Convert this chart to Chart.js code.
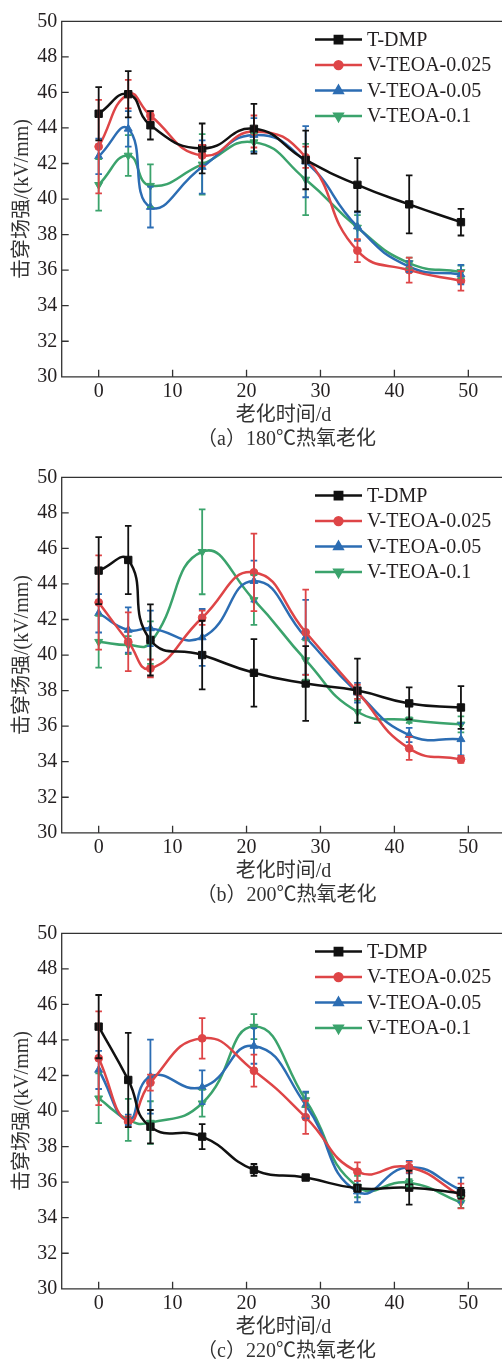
<!DOCTYPE html>
<html><head><meta charset="utf-8">
<script src="https://cdn.jsdelivr.net/npm/chart.js@4.4.0/dist/chart.umd.min.js"></script>
<style>
html,body{margin:0;padding:0;background:#fff;overflow:hidden;width:502px;height:1362px;position:relative;}
.panel{position:absolute;left:0;width:520px;height:456px;}
canvas{display:block;}
</style></head><body>
<div class="panel" style="top:0"><canvas id="c0" width="520" height="456"></canvas></div>
<div class="panel" style="top:456px"><canvas id="c1" width="520" height="456"></canvas></div>
<div class="panel" style="top:912px"><canvas id="c2" width="520" height="456"></canvas></div>
<script>
// ---- data ----
const days = [0, 4, 7, 14, 21, 28, 35, 42, 49];
const xTicks = [0, 10, 20, 30, 40, 50];
const yTicks = [30, 32, 34, 36, 38, 40, 42, 44, 46, 48, 50];
const seriesNames = ['T-DMP', 'V-TEOA-0.025', 'V-TEOA-0.05', 'V-TEOA-0.1'];
const xTitle = '老化时间/d';
const yTitle = '击穿场强/(kV/mm)';
const captions = ['（a）180℃热氧老化', '（b）200℃热氧老化', '（c）220℃热氧老化'];

// (a) 180 ℃
const a_TDMP     = [44.8, 45.9, 44.15, 42.85, 43.95, 42.2, 40.8, 39.7, 38.7];
const a_TDMP_err = [1.5, 1.3, 0.8, 1.4, 1.4, 1.65, 1.5, 1.63, 0.75];
const a_V025     = [42.95, 45.9, 44.7, 42.45, 43.8, 42.35, 37.1, 36.0, 35.4];
const a_V025_err = [2.63, 0.8, 0.25, 0.6, 0.9, 0.6, 0.65, 0.7, 0.55];
const a_V05      = [42.4, 43.95, 39.55, 41.8, 43.6, 42.1, 38.45, 36.2, 35.75];
const a_V05_err  = [1.0, 1.0, 1.15, 1.5, 0.95, 2.0, 0.8, 0.3, 0.55];
const a_V1       = [40.8, 42.45, 40.75, 41.95, 43.2, 41.1, 38.4, 36.4, 35.9];
const a_V1_err   = [1.45, 1.15, 1.2, 1.7, 0.5, 2.0, 0.7, 0.3, 0.35];

// (b) 200 ℃
const b_TDMP     = [44.75, 45.35, 40.85, 40.0, 39.0, 38.4, 38.0, 37.28, 37.05];
const b_TDMP_err = [1.88, 1.92, 2.0, 1.93, 1.9, 2.1, 1.8, 0.9, 1.2];
const b_V025     = [42.96, 40.75, 39.25, 42.1, 44.65, 41.28, 37.93, 34.75, 34.13];
const b_V025_err = [2.65, 1.65, 0.5, 0.4, 2.18, 2.4, 0.4, 0.65, 0.2];
const b_V05      = [42.35, 41.41, 41.5, 40.99, 44.16, 41.0, 37.88, 35.5, 35.26];
const b_V05_err  = [1.08, 1.27, 1.0, 1.6, 1.15, 2.1, 0.55, 0.4, 0.9];
const b_V1       = [40.75, 40.56, 40.7, 45.81, 43.1, 39.72, 36.81, 36.34, 36.1];
const b_V1_err   = [1.46, 0.5, 1.2, 2.39, 1.4, 1.1, 0.64, 0.15, 0.45];

// (c) 220 ℃
const c_TDMP     = [44.75, 41.75, 39.12, 38.56, 36.69, 36.26, 35.66, 35.69, 35.38];
const c_TDMP_err = [1.78, 2.65, 0.94, 0.7, 0.33, 0.15, 0.2, 0.95, 0.3];
const c_V025     = [42.97, 39.4, 41.6, 44.09, 42.27, 39.65, 36.59, 36.84, 35.22];
const c_V025_err = [2.64, 0.3, 0.45, 1.14, 0.9, 0.93, 0.52, 0.3, 0.7];
const c_V05      = [42.31, 39.5, 41.94, 41.34, 43.66, 40.34, 35.47, 36.84, 35.56];
const c_V05_err  = [1.07, 0.3, 2.08, 0.95, 1.0, 0.75, 0.6, 0.35, 0.7];
const c_V1       = [40.72, 39.5, 39.35, 40.44, 44.75, 40.62, 35.75, 35.97, 34.85];
const c_V1_err   = [1.4, 1.18, 1.2, 0.75, 0.7, 0.4, 0.6, 0.2, 0.3];

// ---- styling ----
const colors = ['#111111', '#de4547', '#2c6db3', '#3ba36c'];
const pStyles = ['rect', 'circle', 'triangle', 'triangle'];
const pRadius = [5.2, 3.9, 4.6, 4.6];
const pRot = [0, 0, 0, 180];
const FONT = '"Liberation Serif", "Noto Sans CJK SC", serif';
const TEXT = '#231f20';

const panels = [
  { vals: [a_TDMP, a_V025, a_V05, a_V1], errs: [a_TDMP_err, a_V025_err, a_V05_err, a_V1_err] },
  { vals: [b_TDMP, b_V025, b_V05, b_V1], errs: [b_TDMP_err, b_V025_err, b_V05_err, b_V1_err] },
  { vals: [c_TDMP, c_V025, c_V05, c_V1], errs: [c_TDMP_err, c_V025_err, c_V05_err, c_V1_err] },
];

const errorBars = {
  id: 'errorBars',
  afterDatasetsDraw(chart) {
    const { ctx, scales: { x, y } } = chart;
    ctx.save();
    for (let i = chart.data.datasets.length - 1; i >= 0; i--) {
      const ds = chart.data.datasets[i];
      ctx.strokeStyle = ds.borderColor;
      ctx.lineWidth = 1.8;
      ctx.beginPath();
      ds.data.forEach((p, j) => {
        const e = ds.errors[j];
        const px = x.getPixelForValue(p.x);
        const y1 = y.getPixelForValue(p.y + e);
        const y2 = y.getPixelForValue(p.y - e);
        ctx.moveTo(px, y1); ctx.lineTo(px, y2);
        ctx.moveTo(px - 3.3, y1); ctx.lineTo(px + 3.3, y1);
        ctx.moveTo(px - 3.3, y2); ctx.lineTo(px + 3.3, y2);
      });
      ctx.stroke();
    }
    ctx.restore();
  }
};

const frame = {
  id: 'frame',
  afterDraw(chart, args, opts) {
    const { ctx, chartArea: { left, right, top, bottom }, scales: { x, y } } = chart;
    ctx.save();
    ctx.strokeStyle = '#333';
    ctx.lineWidth = 1.3;
    ctx.beginPath();
    ctx.rect(left, top, right - left, bottom - top);
    xTicks.forEach(v => { const px = x.getPixelForValue(v); ctx.moveTo(px, bottom); ctx.lineTo(px, bottom - 7); });
    yTicks.forEach(v => { const py = y.getPixelForValue(v); ctx.moveTo(left, py); ctx.lineTo(left + 7, py); });
    ctx.stroke();

    // titles
    ctx.fillStyle = '#333';
    ctx.font = '20px ' + FONT;
    ctx.textAlign = 'center';
    ctx.textBaseline = 'middle';
    ctx.fillText(xTitle, (left + right) / 2, bottom + 38.5);
    ctx.fillText(opts.caption, (left + right) / 2 + 3, bottom + 62.5);
    ctx.save();
    ctx.translate(22.5, (top + bottom) / 2);
    ctx.rotate(-Math.PI / 2);
    ctx.fillText(yTitle, 0, 0);
    ctx.restore();

    // legend
    const lx0 = 315, lx1 = 362, tx = 367;
    ctx.font = '20px ' + FONT;
    chart.data.datasets.forEach((ds, i) => {
      const ly = top + 18.3 + i * 25.5;
      ctx.strokeStyle = ds.borderColor;
      ctx.lineWidth = 2.5;
      ctx.beginPath(); ctx.moveTo(lx0, ly); ctx.lineTo(lx1, ly); ctx.stroke();
      ctx.fillStyle = ds.borderColor;
      Chart.helpers.drawPoint(ctx, { pointStyle: ds.pointStyle, radius: ds.pointRadius, rotation: ds.pointRotation, borderWidth: 1 }, (lx0 + lx1) / 2, ly);
      ctx.fillStyle = TEXT;
      ctx.textAlign = 'left';
      ctx.textBaseline = 'middle';
      ctx.fillText(ds.label, tx, ly + 1);
    });
    ctx.restore();
  }
};

panels.forEach((pn, k) => {
  const datasets = seriesNames.map((name, i) => ({
    label: name,
    data: days.map((d, j) => ({ x: d, y: pn.vals[i][j] })),
    errors: pn.errs[i],
    borderColor: colors[i],
    backgroundColor: colors[i],
    pointBackgroundColor: colors[i],
    pointBorderColor: colors[i],
    pointStyle: pStyles[i],
    pointRadius: pRadius[i],
    pointRotation: pRot[i],
    pointBorderWidth: 1,
    borderWidth: 2.5,
    tension: 0.5,
    fill: false,
  }));
  new Chart(document.getElementById('c' + k), {
    type: 'line',
    data: { datasets },
    options: {
      responsive: false,
      animation: false,
      devicePixelRatio: 1,
      layout: { padding: { top: 21.3, left: 0, right: 520 - 505.3, bottom: 456 - 376.8 - 30 } },
      plugins: { legend: { display: false }, tooltip: { enabled: false }, frame: { caption: captions[k] } },
      scales: {
        x: {
          type: 'linear', min: -5, max: 55,
          afterBuildTicks: s => { s.ticks = xTicks.map(v => ({ value: v })); },
          afterFit: s => { s.height = 30; },
          grid: { display: false, drawTicks: false },
          border: { display: false },
          ticks: { font: { size: 20, family: FONT }, color: TEXT, padding: 3, maxRotation: 0 },
        },
        y: {
          type: 'linear', min: 30, max: 50,
          afterBuildTicks: s => { s.ticks = yTicks.map(v => ({ value: v })); },
          afterFit: s => { s.width = 61.7; },
          grid: { display: false, drawTicks: false },
          border: { display: false },
          ticks: { font: { size: 20, family: FONT }, color: TEXT, padding: 4.5 },
        }
      }
    },
    plugins: [errorBars, frame]
  });
});
</script>
</body></html>
